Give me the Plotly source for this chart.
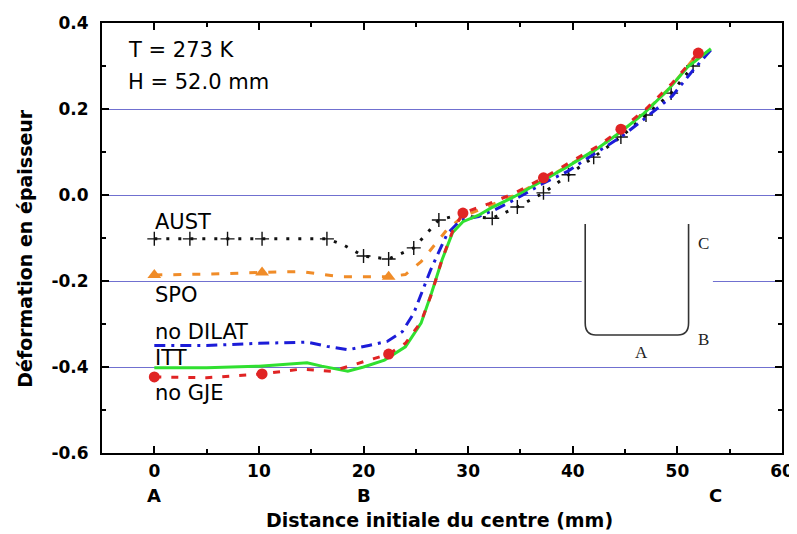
import plotly.graph_objects as go

# ---------------- data ----------------
aust_x = [0, 3.4, 7, 10.3, 13, 16.5, 18, 20, 22.4, 24.8, 27.2, 28.5, 30, 32.3, 34.7, 37.2, 39.6, 42, 44.6, 47, 49.4, 51.5]
aust_y = [-0.102, -0.102, -0.102, -0.102, -0.102, -0.102, -0.115, -0.142, -0.149, -0.123, -0.058, -0.05, -0.05, -0.054, -0.028, 0.005, 0.047, 0.088, 0.135, 0.186, 0.237, 0.30]
aust_mark_x = [0, 3.4, 7, 10.3, 16.5, 20, 22.4, 24.8, 27.2, 32.3, 34.7, 37.2, 39.6, 42, 44.6, 47, 49.4, 51.5]
aust_mark_y = [-0.102, -0.102, -0.102, -0.102, -0.102, -0.142, -0.149, -0.123, -0.058, -0.054, -0.028, 0.005, 0.047, 0.088, 0.135, 0.186, 0.237, 0.30]

spo_x = [0, 5, 10.3, 14, 17.8, 20, 22.4, 24, 25.5, 27, 28, 29.5, 32, 34.5, 37.2, 40, 42.5, 44.6, 47, 49.5, 52]
spo_y = [-0.186, -0.184, -0.18, -0.178, -0.19, -0.19, -0.19, -0.185, -0.155, -0.11, -0.08, -0.05, -0.025, 0.0, 0.035, 0.075, 0.11, 0.15, 0.195, 0.255, 0.33]
spo_mark_x = [0, 10.3, 22.4]
spo_mark_y = [-0.186, -0.18, -0.19]

dilat_x = [0, 5, 10, 14.6, 16.5, 18.5, 20.5, 22.3, 23.7, 24.8, 26.4, 28, 29.3, 31, 32.5, 34.5, 37, 39.5, 42, 44.6, 47, 49.5, 51.5, 53.3]
dilat_y = [-0.35, -0.35, -0.345, -0.342, -0.352, -0.36, -0.35, -0.34, -0.318, -0.275, -0.175, -0.09, -0.058, -0.05, -0.035, -0.01, 0.025, 0.055, 0.095, 0.135, 0.18, 0.23, 0.29, 0.34]

itt_x = [0, 5, 10, 14.6, 16, 18.5, 20, 22, 24, 25.5, 26.5, 27.5, 28.5, 29.5, 31, 32.2, 34.4, 37.2, 39.5, 42.4, 44.6, 46.8, 49.1, 51, 53.2]
itt_y = [-0.402, -0.402, -0.398, -0.39, -0.398, -0.41, -0.40, -0.384, -0.353, -0.298, -0.228, -0.151, -0.088, -0.062, -0.047, -0.03, -0.004, 0.035, 0.066, 0.109, 0.147, 0.19, 0.244, 0.298, 0.34]

gje_x = [0, 5, 10.3, 14, 17, 19.4, 22.4, 24, 25.5, 26.5, 27.5, 28.5, 29.5, 32, 34.5, 37.2, 40, 42.5, 44.6, 47, 49.5, 52]
gje_y = [-0.423, -0.425, -0.416, -0.405, -0.41, -0.393, -0.37, -0.345, -0.295, -0.23, -0.15, -0.085, -0.042, -0.02, 0.005, 0.04, 0.08, 0.115, 0.153, 0.2, 0.26, 0.33]
gje_mark_x = [0, 10.3, 22.4, 29.5, 37.2, 44.6, 52]
gje_mark_y = [-0.423, -0.416, -0.37, -0.042, 0.04, 0.153, 0.33]

series_labels = ["AUST", "SPO", "no DILAT", "ITT", "no GJE"]
x_ticks = [0, 10, 20, 30, 40, 50, 60]
y_ticks = [-0.6, -0.4, -0.2, 0.0, 0.2, 0.4]
y_tick_text = ["-0.6", "-0.4", "-0.2", "0.0", "0.2", "0.4"]
point_labels = ["A", "B", "C"]
point_pos = [0, 20, 53.6]
x_title = "Distance initiale du centre (mm)"
y_title = "Déformation en épaisseur"

# ---------------- styles ----------------
C_AUST = "#111111"
C_SPO = "#f08c28"
C_DILAT = "#1c1cd8"
C_ITT = "#30e030"
C_GJE = "#e02424"
FONT = "DejaVu Sans"
X_RANGE = [-5, 60]
Y_RANGE = [-0.6, 0.4]

fig = go.Figure()

fig.add_trace(go.Scatter(x=aust_x, y=aust_y, mode="lines", name=series_labels[0],
                         line=dict(color=C_AUST, width=3, dash="3px,9px"), showlegend=False))
fig.add_trace(go.Scatter(x=aust_mark_x, y=aust_mark_y, mode="markers", showlegend=False,
                         marker=dict(symbol="cross-thin", size=10, line=dict(color=C_AUST, width=1.4))))

fig.add_trace(go.Scatter(x=spo_x, y=spo_y, mode="lines", name=series_labels[1],
                         line=dict(color=C_SPO, width=3, dash="8px,11px"), showlegend=False))
fig.add_trace(go.Scatter(x=spo_mark_x, y=spo_mark_y, mode="markers", showlegend=False,
                         marker=dict(symbol="triangle-up", size=12, color=C_SPO)))

fig.add_trace(go.Scatter(x=dilat_x, y=dilat_y, mode="lines", name=series_labels[2],
                         line=dict(color=C_DILAT, width=3, dash="11px,6px,3px,6px"), showlegend=False))

fig.add_trace(go.Scatter(x=itt_x, y=itt_y, mode="lines", name=series_labels[3],
                         line=dict(color=C_ITT, width=3), showlegend=False))

fig.add_trace(go.Scatter(x=gje_x, y=gje_y, mode="lines", name=series_labels[4],
                         line=dict(color=C_GJE, width=3, dash="7px,10px"), showlegend=False))
fig.add_trace(go.Scatter(x=gje_mark_x, y=gje_mark_y, mode="markers", showlegend=False,
                         marker=dict(symbol="circle", size=11, color=C_GJE)))

# empty trace so the mirrored tick axes (top / right) are drawn
fig.add_trace(go.Scatter(x=[], y=[], xaxis="x2", yaxis="y2", showlegend=False, hoverinfo="skip"))

# in-plot series labels
label_y = [-0.063, -0.233, -0.319, -0.379, -0.46]
for txt, yy in zip(series_labels, label_y):
    fig.add_annotation(x=0, y=yy, xref="x", yref="y", text=txt, showarrow=False,
                       xanchor="left", yanchor="middle", xshift=-1,
                       font=dict(family=FONT, size=21, color="black"))

# condition text
fig.add_annotation(x=0.036, y=0.937, xref="paper", yref="paper", text="T = 273 K", showarrow=False,
                   xanchor="left", yanchor="middle", font=dict(family=FONT, size=21, color="black"))
fig.add_annotation(x=0.036, y=0.863, xref="paper", yref="paper", text="H = 52.0 mm", showarrow=False,
                   xanchor="left", yanchor="middle", font=dict(family=FONT, size=21, color="black"))

# A / B / C under x ticks
for txt, xx in zip(point_labels, point_pos):
    fig.add_annotation(x=xx, y=-0.0977, xref="x", yref="paper", text="<b>%s</b>" % txt, showarrow=False,
                       xanchor="center", yanchor="middle", font=dict(family=FONT, size=18, color="black"))

# axis titles
fig.add_annotation(x=0.496, y=-0.156, xref="paper", yref="paper", text="<b>%s</b>" % x_title,
                   showarrow=False, xanchor="center", yanchor="middle",
                   font=dict(family=FONT, size=19, color="black"))
fig.add_annotation(x=-0.1134, y=0.477, xref="paper", yref="paper", text="<b>%s</b>" % y_title,
                   showarrow=False, xanchor="center", yanchor="middle", textangle=-90,
                   font=dict(family=FONT, size=19, color="black"))

# inset sketch of the part (white patch, U-shape, letters)
fig.add_shape(type="rect", xref="paper", yref="paper", x0=0.7054, x1=0.8984, y0=0.2116, y1=0.5767,
              fillcolor="white", line=dict(width=0), layer="above")
fig.add_shape(type="path", xref="paper", yref="paper",
              path="M 0.7106,0.5326 L 0.7106,0.3023 Q 0.7106,0.2744 0.7261,0.2744 "
                   "L 0.8468,0.2744 Q 0.8626,0.2744 0.8626,0.3023 L 0.8626,0.5326",
              line=dict(color="#333333", width=1.6), layer="above")
for txt, xx, yy in [("C", 0.885, 0.488), ("B", 0.884, 0.263), ("A", 0.794, 0.2326)]:
    fig.add_annotation(x=xx, y=yy, xref="paper", yref="paper", text=txt, showarrow=False,
                       xanchor="center", yanchor="middle",
                       font=dict(family="Liberation Serif", size=17, color="#222222"))

tick_style = dict(ticks="inside", ticklen=7, tickwidth=1.5, tickcolor="black", zeroline=False,
                  automargin=False)

# the page body adds an 8 px offset, so the figure is 8 px smaller and margins shifted
fig.update_layout(
    width=789, height=526,
    margin=dict(l=94, r=15, t=15, b=81),
    paper_bgcolor="white", plot_bgcolor="white",
    showlegend=False,
    xaxis=dict(
        range=X_RANGE, tickvals=x_ticks, showgrid=False,
        showline=True, linecolor="black", linewidth=2, mirror=True,
        minor=dict(dtick=5, tick0=0, ticks="inside", ticklen=4, tickcolor="black", showgrid=False),
        tickfont=dict(family=FONT, size=17, color="black", weight="bold"),
        ticklabelstandoff=2,
        **tick_style,
    ),
    yaxis=dict(
        range=Y_RANGE, tickvals=y_ticks, ticktext=y_tick_text,
        showgrid=True, gridcolor="#7070d0", gridwidth=1,
        showline=True, linecolor="black", linewidth=2, mirror=True,
        minor=dict(dtick=0.1, tick0=0, ticks="inside", ticklen=4, tickcolor="black", showgrid=False),
        tickfont=dict(family=FONT, size=17, color="black", weight="bold"),
        ticklabelstandoff=8,
        **tick_style,
    ),
    xaxis2=dict(
        range=X_RANGE, overlaying="x", side="top", anchor="y", tickvals=x_ticks,
        showticklabels=False, showgrid=False, showline=False,
        minor=dict(dtick=5, tick0=0, ticks="inside", ticklen=4, tickcolor="black", showgrid=False),
        **tick_style,
    ),
    yaxis2=dict(
        range=Y_RANGE, overlaying="y", side="right", anchor="x", tickvals=y_ticks,
        showticklabels=False, showgrid=False, showline=False,
        minor=dict(dtick=0.1, tick0=0, ticks="inside", ticklen=4, tickcolor="black", showgrid=False),
        **tick_style,
    ),
)

fig.write_html("out.html")
